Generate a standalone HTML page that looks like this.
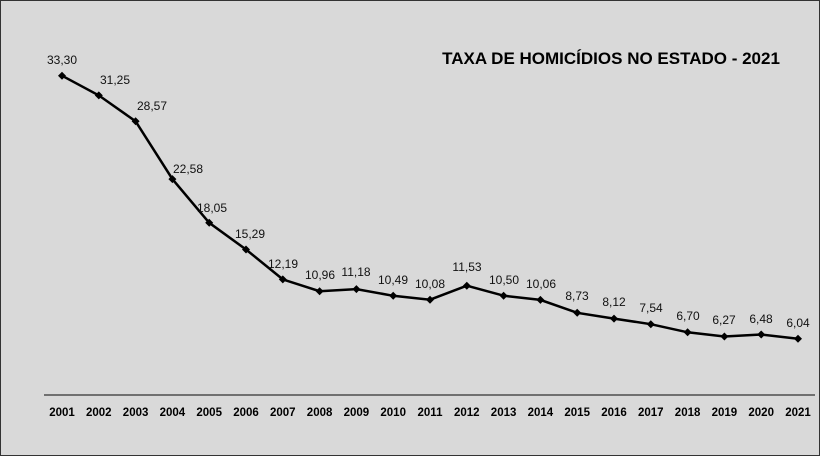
<!DOCTYPE html>
<html><head><meta charset="utf-8"><style>html,body{margin:0;padding:0;background:#d9d9d9;width:820px;height:456px;overflow:hidden}svg{display:block}</style></head>
<body>
<svg width="820" height="456" xmlns="http://www.w3.org/2000/svg" font-family="Liberation Sans, sans-serif">
<rect x="0.5" y="0.5" width="819" height="455" fill="#d9d9d9" stroke="#333" stroke-width="1"/>
<text x="611" y="64" text-anchor="middle" font-size="17" font-weight="bold" fill="#000">TAXA DE HOMICÍDIOS NO ESTADO - 2021</text>
<line x1="44" y1="395" x2="815" y2="395" stroke="#333" stroke-width="1.2"/>
<polyline fill="none" stroke="#000" stroke-width="2.5" points="62,75.7 98.8,95.4 135.6,121.3 172.4,179.1 209.2,222.8 246,249.5 282.8,279.4 319.6,291.2 356.4,289.1 393.2,295.8 430,299.7 466.8,285.7 503.6,295.7 540.4,299.9 577.2,312.8 614,318.6 650.8,324.2 687.6,332.3 724.4,336.5 761.2,334.5 798,338.7"/>
<g fill="#000">
<path d="M62 71.7l4 4-4 4-4-4z M98.8 91.4l4 4-4 4-4-4z M135.6 117.3l4 4-4 4-4-4z M172.4 175.1l4 4-4 4-4-4z M209.2 218.8l4 4-4 4-4-4z M246 245.5l4 4-4 4-4-4z M282.8 275.4l4 4-4 4-4-4z M319.6 287.2l4 4-4 4-4-4z M356.4 285.1l4 4-4 4-4-4z M393.2 291.8l4 4-4 4-4-4z M430 295.7l4 4-4 4-4-4z M466.8 281.7l4 4-4 4-4-4z M503.6 291.7l4 4-4 4-4-4z M540.4 295.9l4 4-4 4-4-4z M577.2 308.8l4 4-4 4-4-4z M614 314.6l4 4-4 4-4-4z M650.8 320.2l4 4-4 4-4-4z M687.6 328.3l4 4-4 4-4-4z M724.4 332.5l4 4-4 4-4-4z M761.2 330.5l4 4-4 4-4-4z M798 334.7l4 4-4 4-4-4z"/>
</g>
<g font-size="12" fill="#111" text-anchor="middle" dominant-baseline="middle">
<text x="62" y="61">33,30</text><text x="115" y="81">31,25</text><text x="152" y="107">28,57</text><text x="188" y="170">22,58</text><text x="212" y="209">18,05</text><text x="250" y="235">15,29</text><text x="283" y="265">12,19</text><text x="320" y="276">10,96</text><text x="356" y="273">11,18</text><text x="393" y="281">10,49</text><text x="430" y="285">10,08</text><text x="467" y="268">11,53</text><text x="504" y="281">10,50</text><text x="541" y="285">10,06</text><text x="577" y="297">8,73</text><text x="614" y="303">8,12</text><text x="651" y="309">7,54</text><text x="688" y="317">6,70</text><text x="724" y="321">6,27</text><text x="761" y="320">6,48</text><text x="798" y="324">6,04</text>
</g>
<g font-size="11.5" font-weight="bold" fill="#000" text-anchor="middle">
<text x="62" y="416">2001</text><text x="98.8" y="416">2002</text><text x="135.6" y="416">2003</text><text x="172.4" y="416">2004</text><text x="209.2" y="416">2005</text><text x="246" y="416">2006</text><text x="282.8" y="416">2007</text><text x="319.6" y="416">2008</text><text x="356.4" y="416">2009</text><text x="393.2" y="416">2010</text><text x="430" y="416">2011</text><text x="466.8" y="416">2012</text><text x="503.6" y="416">2013</text><text x="540.4" y="416">2014</text><text x="577.2" y="416">2015</text><text x="614" y="416">2016</text><text x="650.8" y="416">2017</text><text x="687.6" y="416">2018</text><text x="724.4" y="416">2019</text><text x="761.2" y="416">2020</text><text x="798" y="416">2021</text>
</g>
</svg>
</body></html>
